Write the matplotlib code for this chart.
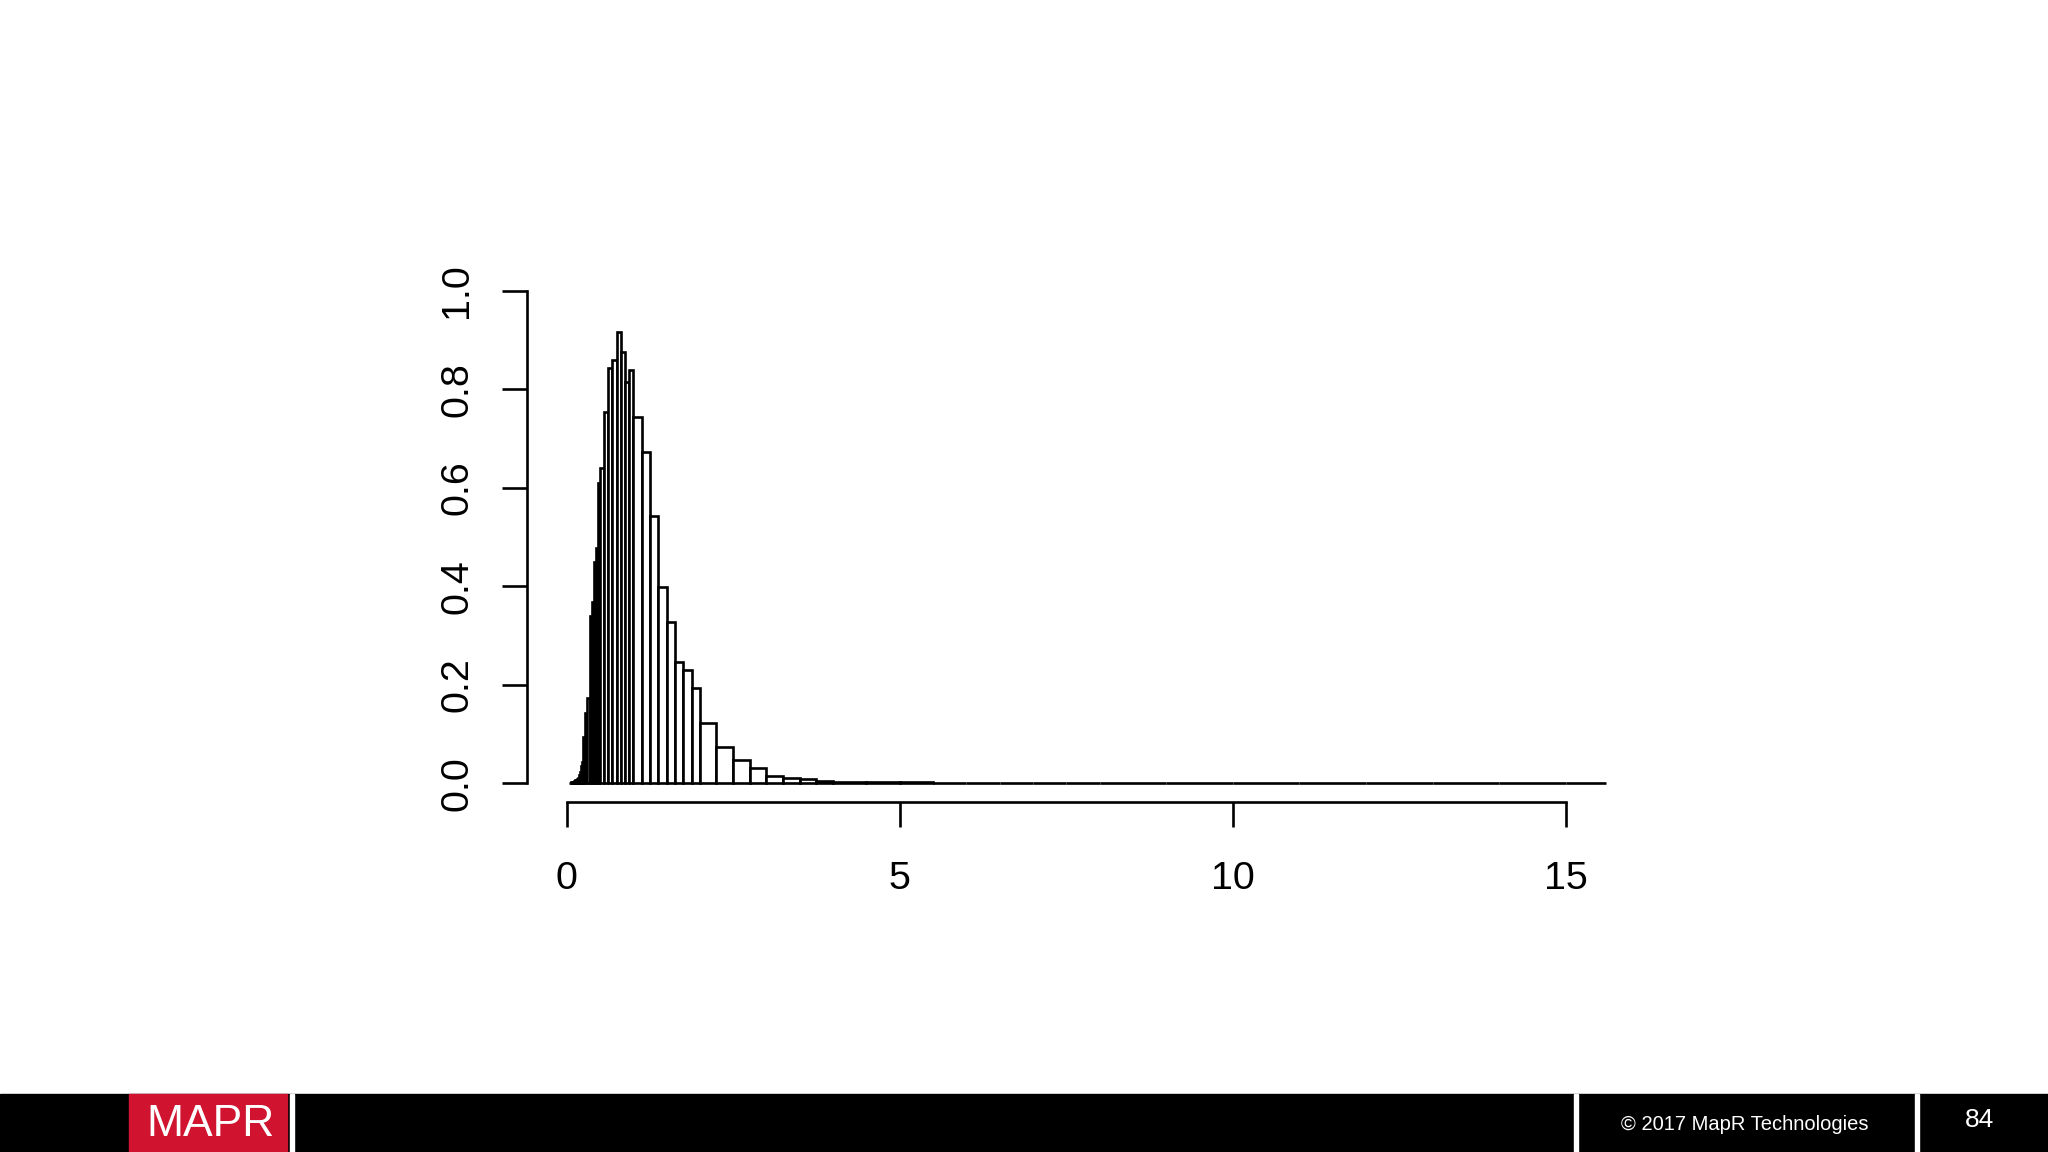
import matplotlib
matplotlib.use("Agg")
import matplotlib.pyplot as plt
from matplotlib.patches import Rectangle

# ---- data ----
octave_starts = [0.03125, 0.0625, 0.125, 0.25, 0.5, 1, 2, 4, 8]
bins_per_octave = 8
x_max = 15.6

h_oct_003 = [0.0005, 0.0006, 0.0008, 0.0008, 0.001, 0.001, 0.0012, 0.0012]
h_oct_006 = [0.0015, 0.0018, 0.002, 0.0025, 0.003, 0.003, 0.004, 0.005]
h_oct_012 = [0.006, 0.007, 0.008, 0.010, 0.017, 0.022, 0.034, 0.044]
h_oct_025 = [0.094, 0.142, 0.173, 0.340, 0.369, 0.450, 0.477, 0.609]
h_oct_05 = [0.640, 0.755, 0.843, 0.860, 0.916, 0.877, 0.816, 0.840]
h_oct_1 = [0.744, 0.672, 0.543, 0.398, 0.328, 0.246, 0.229, 0.193]
h_oct_2 = [0.122, 0.073, 0.047, 0.030, 0.014, 0.011, 0.008, 0.004]
h_oct_4 = [0.003, 0.002, 0.0015, 0.0012, 0.001, 0.0008, 0.0006, 0.0005]
h_oct_8 = [0.0004, 0.0003, 0.0003, 0.0002, 0.0002, 0.0001, 0.0001, 0.0001]

x_ticks = [0, 5, 10, 15]
y_ticks = [0.0, 0.2, 0.4, 0.6, 0.8, 1.0]
y_tick_labels = ["0.0", "0.2", "0.4", "0.6", "0.8", "1.0"]

footer_copyright = "\u00a9 2017 MapR Technologies"
footer_page = "84"
logo_text = "MAPR"

# ---- build bins ----
heights = (h_oct_003 + h_oct_006 + h_oct_012 + h_oct_025 + h_oct_05
           + h_oct_1 + h_oct_2 + h_oct_4 + h_oct_8)
edges = []
for lo in octave_starts:
    for j in range(bins_per_octave):
        edges.append(lo * (1 + j / bins_per_octave))
edges.append(x_max)
lefts = edges[:-1]
widths = [b - a for a, b in zip(edges[:-1], edges[1:])]

plt.rcParams['font.family'] = ['Liberation Sans', 'DejaVu Sans']

W, H = 2048, 1152
fig = plt.figure(figsize=(W / 100, H / 100), dpi=100)
fig.patch.set_facecolor('white')

ax_left, ax_right = 526.7, 1645.8
ax_top, ax_bottom = 271.3, 802.3
ax = fig.add_axes([ax_left / W, 1 - ax_bottom / H,
                   (ax_right - ax_left) / W, (ax_bottom - ax_top) / H])
ax.set_xlim(-0.599, 16.2)
ax.set_ylim(-0.0388, 1.04)

ax.bar(lefts, heights, width=widths, align='edge', color='white',
       edgecolor='black', linewidth=1.9)

for s in ['top', 'right']:
    ax.spines[s].set_visible(False)
ax.spines['left'].set_bounds(0, 1)
ax.spines['bottom'].set_bounds(0, 15)
for s in ['left', 'bottom']:
    ax.spines[s].set_linewidth(1.9)

ax.set_xticks(x_ticks)
ax.set_xticklabels([str(t) for t in x_ticks])
ax.set_yticks(y_ticks)
ax.set_yticklabels(y_tick_labels, rotation=90, va='center')
ax.tick_params(axis='both', direction='out', length=18, width=1.9,
               labelsize=28.4)
ax.tick_params(axis='x', pad=24.5)
ax.tick_params(axis='y', pad=19)
ax.patch.set_visible(False)

# ---- footer ----
fax = fig.add_axes([0, 0, 1, 1], zorder=-1)
fax.set_xlim(0, W)
fax.set_ylim(H, 0)
fax.axis('off')
fax.add_patch(Rectangle((0, 1094), W, H - 1094, color='black'))
fax.add_patch(Rectangle((129, 1094), 158, H - 1094, color='#d0142f'))
for x0 in [290, 1574, 1915]:
    fax.add_patch(Rectangle((x0, 1094), 4, H - 1094, color='white'))
fax.text(210, 1124, logo_text, color='white', fontsize=32, ha='center',
         va='center', family=['Liberation Sans', 'DejaVu Sans'])
fax.text(1745, 1124, footer_copyright, color='white', fontsize=14.5,
         ha='center', va='center')
fax.text(1980, 1120, footer_page, color='white', fontsize=19,
         ha='center', va='center')

fig.savefig('out.png', dpi=100, facecolor='white')
